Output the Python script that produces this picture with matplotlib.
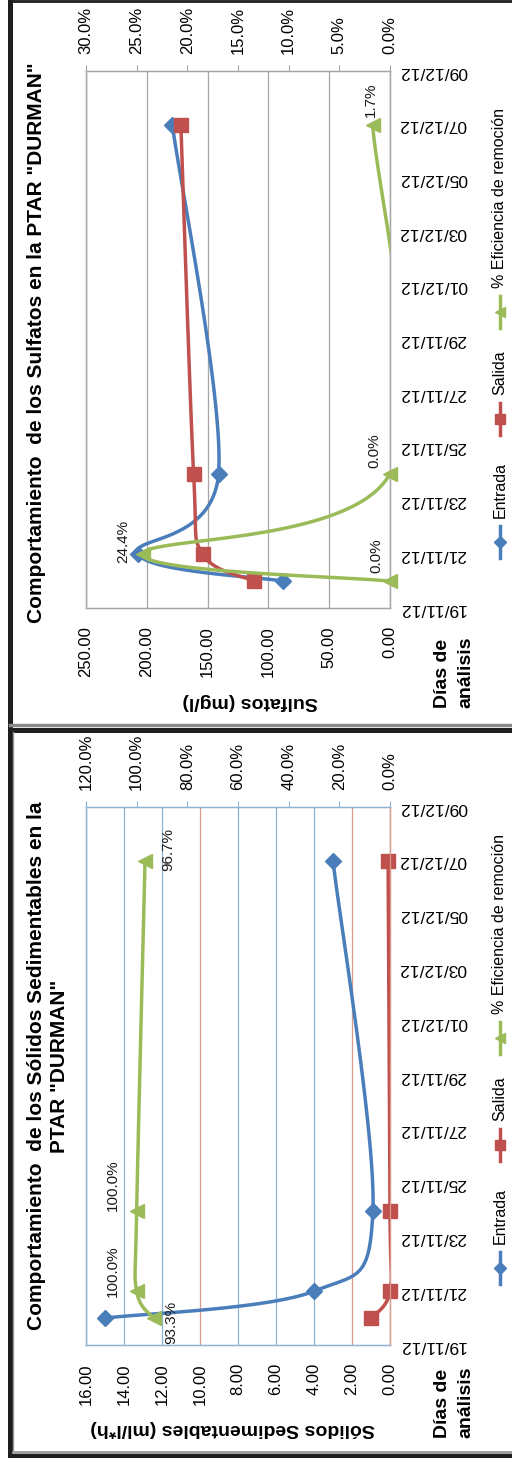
import numpy as np
import pandas as pd
import matplotlib
matplotlib.use("Agg")
import matplotlib.pyplot as plt
import matplotlib.dates as mdates

plt.rcParams['font.family'] = ['Liberation Sans', 'DejaVu Sans']

# Datos de los muestreos
fechas = ["20/11/12", "21/11/12", "24/11/12", "07/12/12"]
eje_inicio = "19/11/12"
eje_fin = "09/12/12"

sulf_entrada = [88.0, 207.0, 141.0, 179.0]
sulf_salida = [111.5, 154.0, 161.5, 172.0]
sulf_eficiencia = [0.0, 24.4, 0.0, 1.7]

ss_entrada = [15.0, 4.0, 0.9, 3.0]
ss_salida = [1.0, 0.0, 0.0, 0.1]
ss_eficiencia = [93.3, 100.0, 100.0, 96.7]

series = ["Entrada", "Salida", "% Eficiencia de remoción"]

AZUL = "#4A7EBB"
ROJO = "#C0504D"
VERDE = "#9BBB59"

W, H = 512, 1458
fig = plt.figure(figsize=(W / 100, H / 100), dpi=100)


def caja(x0, y0, x1, y1):
    return [x0 / W, 1 - y1 / H, (x1 - x0) / W, (y1 - y0) / H]


def a_num(f):
    return mdates.date2num(pd.to_datetime(f, format="%d/%m/%y"))


def suavizar(x, y, n=40):
    # curva tipo Excel: bezier con puntos de control a 1/6
    x = np.asarray(x, float)
    y = np.asarray(y, float)
    t = np.linspace(0, 1, n)
    cx, cy = [], []
    for i in range(len(x) - 1):
        a, b = max(i - 1, 0), min(i + 2, len(x) - 1)
        c1x = x[i] + (x[i + 1] - x[a]) / 6
        c1y = y[i] + (y[i + 1] - y[a]) / 6
        c2x = x[i + 1] - (x[b] - x[i]) / 6
        c2y = y[i + 1] - (y[b] - y[i]) / 6
        cx.append((1 - t) ** 3 * x[i] + 3 * (1 - t) ** 2 * t * c1x + 3 * (1 - t) * t ** 2 * c2x + t ** 3 * x[i + 1])
        cy.append((1 - t) ** 3 * y[i] + 3 * (1 - t) ** 2 * t * c1y + 3 * (1 - t) * t ** 2 * c2y + t ** 3 * y[i + 1])
    return np.concatenate(cx), np.concatenate(cy)


# fondo con marcos y textos
fondo = fig.add_axes([0, 0, 1, 1])
fondo.set_xlim(0, W)
fondo.set_ylim(H, 0)
fondo.axis("off")
oscuro = "#1e1e1e"
fondo.plot([9.5, 9.5], [0, H], color=oscuro, lw=3.6)
fondo.plot([9.5, W], [1, 1], color=oscuro, lw=2)
fondo.plot([9.5, W], [725, 725], color="#8a8a8a", lw=2.5)
fondo.plot([9.5, W], [729.5, 729.5], color=oscuro, lw=3.6)
fondo.plot([12.8, 12.8], [732, 1450], color="#9a9a9a", lw=1)
fondo.plot([12.8, W], [1451.5, 1451.5], color="#9a9a9a", lw=2)
fondo.plot([9.5, W], [1455.5, 1455.5], color=oscuro, lw=3.6)

dias = [a_num(f) for f in fechas]
ticks_fecha = pd.date_range(pd.to_datetime(eje_inicio, format="%d/%m/%y"),
                            pd.to_datetime(eje_fin, format="%d/%m/%y"), freq="2D")


def grafico(rect, vmax, vpaso, pmax, ppaso, entrada, salida, efic,
            color_grid, color_borde, color_fecha, etiquetas):
    ax = fig.add_axes(caja(*rect))
    ax.set_xlim(vmax, 0)
    ax.set_xticks(np.arange(0, vmax + vpaso / 2, vpaso))
    ax.set_xticklabels([f"{v:.2f}" for v in ax.get_xticks()])
    ax.set_ylim(a_num(eje_inicio), a_num(eje_fin))
    ax.set_yticks(mdates.date2num(ticks_fecha))
    ax.set_yticklabels([d.strftime("%d/%m/%y") for d in ticks_fecha])
    ax.yaxis.tick_right()
    ax.tick_params(axis="x", length=0, pad=13, labelsize=12, labelrotation=90)
    ax.tick_params(axis="y", length=0, pad=6.5, labelsize=12.5, labelrotation=180)
    for lab in ax.get_yticklabels():
        lab.set_va("center")
    ax.grid(axis="x", lw=0.9)
    for tk, c in zip(ax.xaxis.get_major_ticks(), color_grid):
        tk.gridline.set_color(c)
    ax.set_axisbelow(True)

    ax2 = ax.twiny()
    ax2.set_xlim(pmax, 0)
    ax2.set_xticks(np.arange(0, pmax + ppaso / 2, ppaso))
    ax2.set_xticklabels([f"{v:.1f}%" for v in ax2.get_xticks()])
    ax2.tick_params(axis="x", direction="out", length=4.5, width=0.8,
                    color=color_borde, pad=7.5, labelsize=12, labelrotation=90)

    for a in (ax, ax2):
        for lado, sp in a.spines.items():
            sp.set_color(color_fecha if lado == "right" else color_borde)
            sp.set_linewidth(0.9)

    for a, vals, col, mk, ms in ((ax, entrada, AZUL, "D", 8),
                                 (ax, salida, ROJO, "s", 10),
                                 (ax2, efic, VERDE, "<", 10)):
        sx, sy = suavizar(dias, vals)
        a.plot(sy, sx, color=col, lw=2.5, solid_capstyle="round", zorder=3)
        a.plot(vals, dias, ls="none", marker=mk, ms=ms, color=col,
               mec=col, clip_on=False, zorder=4)

    for v, d, (dx, dy) in zip(efic, dias, etiquetas):
        ax2.annotate(f"{v:.1f}%", (v, d), xytext=(dx, -dy),
                     textcoords="offset pixels", rotation=90,
                     ha="center", va="center", fontsize=11, color="#1a1a1a")
    return ax, ax2


# Sulfatos
grafico((86, 71, 390, 608), 250, 50, 30, 5,
        sulf_entrada, sulf_salida, sulf_eficiencia,
        ["#a6a6a6"] * 6, "#a6a6a6", "#a6a6a6",
        [(-14, -25), (-19, -13), (-16, -23), (-2, -25)])

# Sólidos sedimentables
azul_g, rojo_g = "#8cb4d2", "#d99a8a"
grid_ss = [azul_g, rojo_g, azul_g, azul_g, azul_g,
           rojo_g, azul_g, azul_g, azul_g]
grafico((86, 807, 390, 1345), 16, 2, 120, 20,
        ss_entrada, ss_salida, ss_eficiencia,
        grid_ss, azul_g, rojo_g,
        [(18, 4), (-24, -20), (-24, -25), (23, -11)])

# títulos
fondo.text(42, 343, 'Comportamiento  de los Sulfatos en la PTAR "DURMAN"',
           rotation=90, rotation_mode="anchor", ha="center", va="baseline",
           fontsize=15, fontweight="bold")
fondo.text(42, 1066, 'Comportamiento  de los Sólidos Sedimentables en la',
           rotation=90, rotation_mode="anchor", ha="center", va="baseline",
           fontsize=15, fontweight="bold")
fondo.text(65, 1066, 'PTAR "DURMAN"',
           rotation=90, rotation_mode="anchor", ha="center", va="baseline",
           fontsize=15, fontweight="bold")

# títulos de ejes
fondo.text(250, 701, "Sulfatos (mg/l)", rotation=180, ha="center", va="center",
           fontsize=14, fontweight="bold")
fondo.text(233, 1429, "Sólidos Sedimentables (ml/l*h)", rotation=180,
           ha="center", va="center", fontsize=14, fontweight="bold")
for y0 in (708, 1438):
    fondo.text(447, y0, "Días de", rotation=90, rotation_mode="anchor",
               ha="left", va="baseline", fontsize=14, fontweight="bold")
    fondo.text(470, y0, "análisis", rotation=90, rotation_mode="anchor",
               ha="left", va="baseline", fontsize=14, fontweight="bold")

# leyendas
for off in (0, 726):
    for nombre, col, mk, ms, yc in zip(series, (AZUL, ROJO, VERDE),
                                       ("D", "s", "<"), (6, 7, 7),
                                       (542, 419, 312)):
        yc = yc + off
        fondo.plot([500, 500], [yc - 16, yc + 16], color=col, lw=2.5)
        fondo.plot([500], [yc], marker=mk, ms=ms, color=col, mec=col)
        fondo.text(500, yc - 24, nombre, rotation=90, rotation_mode="anchor",
                   ha="left", va="center", fontsize=11.5)

fig.savefig("out.png", dpi=100)
